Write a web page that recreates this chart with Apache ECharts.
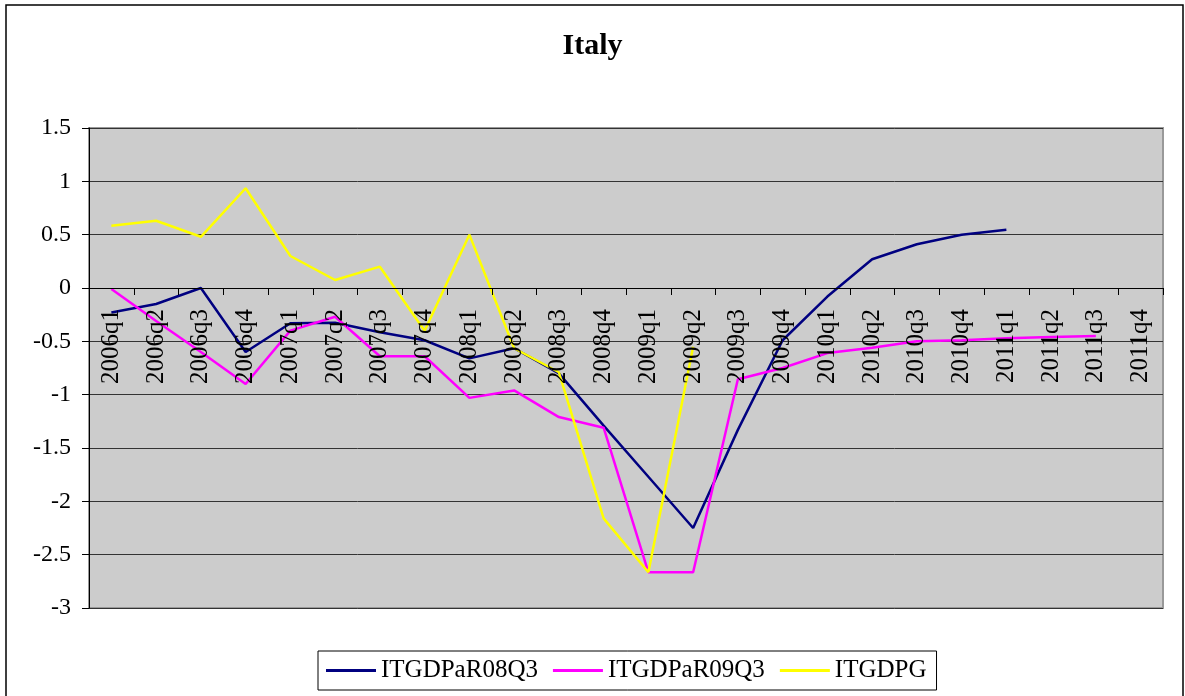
<!DOCTYPE html>
<html>
<head>
<meta charset="utf-8">
<script src="https://cdn.jsdelivr.net/npm/echarts@6/dist/echarts.min.js"></script>
<style>
html,body{margin:0;padding:0;background:#fff;}
#chart{width:1185px;height:696px;}
</style>
</head>
<body>
<div id="chart"></div>
<script>
const categories = ['2006q1','2006q2','2006q3','2006q4','2007q1','2007q2','2007q3','2007q4',
  '2008q1','2008q2','2008q3','2008q4','2009q1','2009q2','2009q3','2009q4',
  '2010q1','2010q2','2010q3','2010q4','2011q1','2011q2','2011q3','2011q4'];
const ITGDPaR08Q3 = [-0.23,-0.15,0.0,-0.60,-0.33,-0.325,-0.415,-0.49,
  -0.66,-0.565,-0.80,-1.29,-1.77,-2.25,-1.33,-0.49,
  -0.08,0.27,0.41,0.50,0.547,null,null,null];
const ITGDPaR09Q3 = [-0.01,-0.31,-0.60,-0.90,-0.40,-0.27,-0.64,-0.64,
  -1.03,-0.96,-1.21,-1.31,-2.665,-2.665,-0.856,-0.75,
  -0.61,-0.56,-0.50,-0.49,-0.47,-0.46,-0.45,null];
const ITGDPG = [0.584,0.63,0.48,0.935,0.30,0.075,0.20,-0.40,
  0.50,-0.565,-0.79,-2.16,-2.665,-0.55,null,null,
  null,null,null,null,null,null,null,null];
const seriesNames = ['ITGDPaR08Q3','ITGDPaR09Q3','ITGDPG'];
const seriesColors = ['#000080','#FF00FF','#FFFF00'];
const seriesData = [ITGDPaR08Q3, ITGDPaR09Q3, ITGDPG];
const yMin = -3, yMax = 1.5;

const font = 'Liberation Serif';
const gridTop = 128, gridBottom = 88, plotH = 696 - gridTop - gridBottom;
const zeroOffset = -plotH * (0 - yMin) / (yMax - yMin);

const chart = echarts.init(document.getElementById('chart'), null, {renderer:'canvas'});
chart.setOption({
  animation:false,
  backgroundColor:'#ffffff',
  title:{text:'Italy', left:'center', top:26,
    textStyle:{fontFamily:font, fontSize:30, fontWeight:'bold', color:'#000'}},
  graphic:[{type:'rect', shape:{x:6,y:5,width:1177,height:720}, style:{fill:'none', stroke:'#000', lineWidth:1.5}, silent:true}],
  grid:{left:89, right:22, top:gridTop, bottom:gridBottom, show:true, backgroundColor:'#CCCCCC', borderColor:'#999999', borderWidth:2},
  legend:{left:318, top:651, orient:'horizontal', icon:'rect', itemWidth:50, itemHeight:3, itemGap:15,
    padding:[7,10,7,8], borderColor:'#000', borderWidth:1, backgroundColor:'#fff',
    textStyle:{fontFamily:font, fontSize:25, color:'#000'},
    data:seriesNames},
  xAxis:{type:'category', data:categories, boundaryGap:true, position:'bottom', offset:zeroOffset, z:10,
    axisLine:{show:true, onZero:false, lineStyle:{color:'#000', width:1}},
    axisTick:{show:true, inside:false, length:7, alignWithLabel:false, lineStyle:{color:'#000'}},
    axisLabel:{rotate:90, interval:0, margin:21, fontFamily:font, fontSize:25, color:'#000'},
    splitLine:{show:false}},
  yAxis:{type:'value', min:yMin, max:yMax, interval:0.5,
    axisLine:{show:true, lineStyle:{color:'#000', width:1}},
    axisTick:{show:true, length:7, lineStyle:{color:'#000'}},
    axisLabel:{margin:18, fontFamily:font, fontSize:24, color:'#000'},
    splitLine:{show:true, lineStyle:{color:'#333', width:1}}},
  series: seriesNames.map((n,i)=>({name:n, type:'line', data:seriesData[i], symbol:'none',
    connectNulls:false, lineStyle:{color:seriesColors[i], width:2.5}, itemStyle:{color:seriesColors[i]}, z:2+i}))
});
</script>
</body>
</html>
